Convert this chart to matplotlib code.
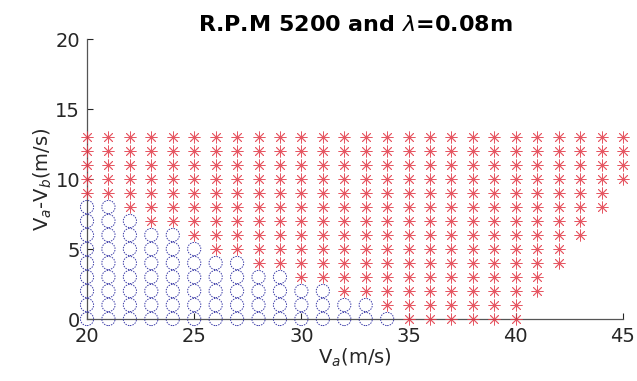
import matplotlib
matplotlib.use("Agg")
import matplotlib.pyplot as plt

# Grid columns of V_a (m/s)
va_circles = [20, 21, 22, 23, 24, 25, 26, 27, 28, 29, 30, 31, 32, 33, 34]
circle_top = [8, 8, 7, 6, 6, 5, 4, 4, 3, 3, 2, 2, 1, 1, 0]

va_stars = [20, 21, 22, 23, 24, 25, 26, 27, 28, 29, 30, 31, 32, 33, 34,
            35, 36, 37, 38, 39, 40, 41, 42, 43, 44, 45]
star_low = [9, 9, 8, 7, 7, 6, 5, 5, 4, 4, 3, 3, 2, 2, 1,
            0, 0, 0, 0, 0, 0, 2, 4, 6, 8, 10]
star_high = [13] * len(va_stars)

TITLE = r"R.P.M 5200 and $\lambda$=0.08m"
INK = "#262626"


def main() -> None:
    plt.rcParams["font.family"] = "DejaVu Sans"
    plt.rcParams["mathtext.fontset"] = "dejavusans"

    cx, cy = [], []
    for v, top in zip(va_circles, circle_top):
        for d in range(0, top + 1):
            cx.append(v)
            cy.append(d)
    sx, sy = [], []
    for v, lo, hi in zip(va_stars, star_low, star_high):
        for d in range(lo, hi + 1):
            sx.append(v)
            sy.append(d)

    fig = plt.figure(figsize=(6.37, 3.81), dpi=100)
    ax = fig.add_axes([0.1366, 0.1627, 0.978 - 0.1366, 0.8976 - 0.1627])

    ax.scatter(cx, cy, s=90, facecolors="none", edgecolors="#3b3ba8",
               linewidths=0.7, linestyle=(0, (1.5, 1.2)), clip_on=False,
               zorder=3)
    ax.plot(sx, sy, linestyle="none", marker=(8, 2, 0), markersize=8.5,
            markeredgecolor="#e23a48", markeredgewidth=0.6, alpha=0.85,
            clip_on=False, zorder=3)

    ax.set_xlim(20, 45)
    ax.set_ylim(0, 20)
    ax.set_xticks([20, 25, 30, 35, 40, 45])
    ax.set_yticks([0, 5, 10, 15, 20])
    ax.tick_params(direction="in", length=4, labelsize=14, colors=INK,
                   width=0.8)
    ax.tick_params(axis="x", pad=6)
    ax.tick_params(axis="y", pad=5)
    for side in ("top", "right"):
        ax.spines[side].set_visible(False)
    for side in ("left", "bottom"):
        ax.spines[side].set_color("#555555")
        ax.spines[side].set_linewidth(0.9)

    ax.set_title(TITLE, fontsize=16, fontweight="bold", color="black", pad=6)
    ax.set_xlabel(r"V$_a$(m/s)", fontsize=14, color=INK, labelpad=0)
    ax.set_ylabel(r"V$_a$-V$_b$(m/s)", fontsize=14, color=INK, labelpad=1)

    fig.savefig("out.png", dpi=100)


if __name__ == "__main__":
    main()
